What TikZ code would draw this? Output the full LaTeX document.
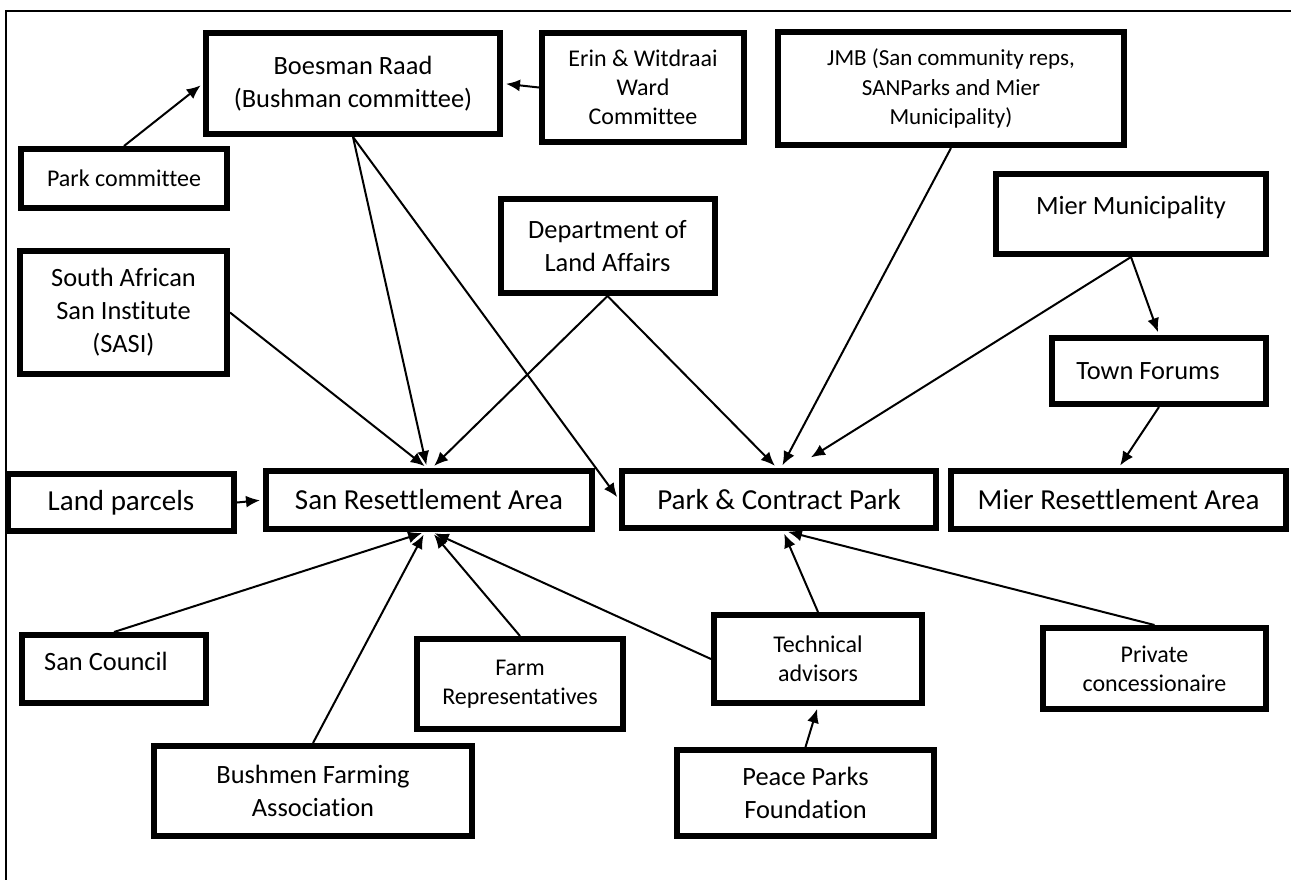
\documentclass[tikz,border=0pt]{standalone}
\usepackage{fontspec}
\setmainfont{Carlito}[Ligatures={NoCommon,NoContextual},Contextuals=NoAlternate]
\usepackage{tikz}
\usetikzlibrary{arrows.meta}
\tikzstyle{org}=[draw, line width=3pt, align=center, inner sep=2pt]
\tikzstyle{bigtext}=[font=\fontsize{14.5}{18}\selectfont]
\tikzstyle{medtext}=[font=\fontsize{13.2}{16.5}\selectfont]
\tikzstyle{smalltext}=[font=\fontsize{12}{14.6}\selectfont]
\tikzstyle{jmbtext}=[font=\fontsize{11.5}{14.6}\selectfont]
\tikzstyle{link}=[->, line width=1pt, shorten >=1.5pt]

\begin{document}
\begin{tikzpicture}[x=0.5pt,y=-0.5pt,>={Latex[length=7pt,width=6pt]}]
      \useasboundingbox (0,0) rectangle (1291,880);
      \draw[line width=0.75pt] (1291,11) -- (6,11) -- (6,880);

      % top row
      \node [org, medtext, minimum width=147pt, minimum height=50.5pt] (boesman) at (353,83.5) {Boesman Raad\\(Bushman committee)};
      \node [org, smalltext, minimum width=101pt, minimum height=54.5pt] (erin) at (643,87.5) {Erin \& Witdraai\\Ward\\Committee};
      \node [org, jmbtext, minimum width=173pt, minimum height=56.5pt] (jmb) at (951,88.5) {JMB (San community reps,\\SANParks and Mier\\Municipality)};
      \node [org, smalltext, minimum width=103pt, minimum height=29.5pt] (parkcom) at (124,178.5) {Park committee};
      \node [org, medtext, minimum width=135pt, minimum height=40pt, text depth=9pt] (miermun) at (1131,214) {Mier Municipality};
      \node [org, medtext, minimum width=107pt, minimum height=47pt] (dla) at (607.5,246) {Department of\\Land Affairs};
      \node [org, medtext, minimum width=103.5pt, minimum height=61.5pt] (sasi) at (123.5,312.5) {South African\\San Institute\\(SASI)};
      \node [org, medtext, minimum width=107pt, minimum height=33pt] (town) at (1159,371) {Town Forums\hspace*{11pt}};

      % middle row
      \node [org, bigtext, minimum width=113pt, minimum height=28.5pt] (land) at (121,502.5) {Land parcels};
      \node [org, bigtext, minimum width=163pt, minimum height=29pt] (sanra) at (429,500) {San Resettlement Area};
      \node [org, bigtext, minimum width=157pt, minimum height=28.5pt] (park) at (779,499.5) {Park \& Contract Park};
      \node [org, bigtext, minimum width=167.5pt, minimum height=29pt] (mierra) at (1118.5,500) {Mier Resettlement Area};

      % bottom rows
      \node [org, medtext, minimum width=92pt, minimum height=34pt, text depth=8pt] (sancouncil) at (114,669) {San Council\hspace*{8pt}};
      \node [org, smalltext, minimum width=103pt, minimum height=45pt] (farmrep) at (520,684) {Farm\\Representatives};
      \node [org, smalltext, minimum width=104pt, minimum height=44pt] (tech) at (818,659) {Technical\\advisors};
      \node [org, smalltext, minimum width=111.5pt, minimum height=40.5pt] (private) at (1154.5,668.5) {Private\\concessionaire};
      \node [org, medtext, minimum width=159pt, minimum height=45pt] (bfa) at (313,791) {Bushmen Farming\\Association};
      \node [org, medtext, minimum width=128.5pt, minimum height=43pt] (peace) at (805.5,793) {Peace Parks\\Foundation};

      % connectors
      \path[link] (parkcom.north) edge (boesman.west);
      \path[link] (erin.west) edge (boesman.east);
      \path[link] (boesman.south) edge ([xshift=-1pt]sanra.north);
      \path[link] (boesman.south) edge (park.west);
      \path[link] (sasi.east) edge ([xshift=-1pt]sanra.north);
      \path[link] (dla.south) edge ([xshift=1.5pt]sanra.north);
      \path[link] (dla.south) edge ([xshift=-1pt]park.north);
      \path[link] (jmb.south) edge ([xshift=1pt]park.north);
      \path[link] (miermun.south) edge[shorten >=10pt] ([xshift=7.5pt]park.north);
      \path[link] (miermun.south) edge (town.north);
      \path[link] (town.south) edge (mierra.north);
      \path[link] (land.east) edge (sanra.west);
      \path[link] (sancouncil.north) edge ([xshift=-2pt]sanra.south);
      \path[link] (bfa.north) edge ([xshift=-2pt]sanra.south);
      \path[link] (farmrep.north) edge ([xshift=1.5pt]sanra.south);
      \path[link] (tech.west) edge ([xshift=1.5pt]sanra.south);
      \path[link] (tech.north) edge ([xshift=2pt]park.south);
      \path[link] (private.north) edge ([xshift=3pt]park.south);
      \path[link] (peace.north) edge (tech.south);
\end{tikzpicture}
\end{document}
